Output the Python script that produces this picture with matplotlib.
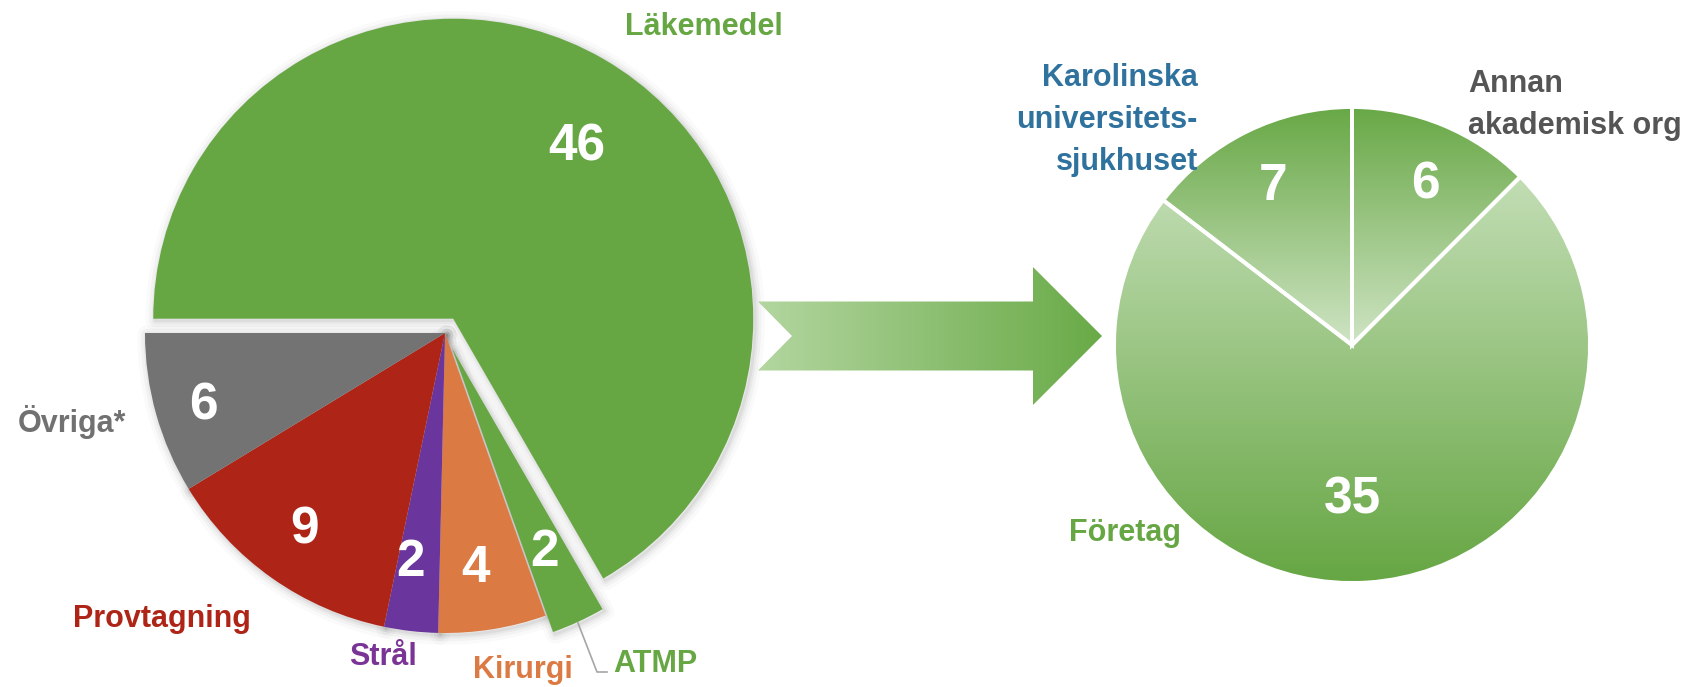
import numpy as np
import matplotlib
matplotlib.use('Agg')
import matplotlib.pyplot as plt
import matplotlib.patches as mpatches
from matplotlib.colors import LinearSegmentedColormap

############################################################################################
# data
left_labels = ['Läkemedel', 'ATMP', 'Kirurgi', 'Strål', 'Provtagning', 'Övriga*']
left_values = [46, 2, 4, 2, 9, 6]
left_colors = ['#66a744', '#66a744', '#dc7a43', '#6a359c', '#ae2518', '#737373']
left_text_colors = ['#66a744', '#66a744', '#dc7a43', '#7a3495', '#ae2518', '#717171']

right_labels = ['Annan\nakademisk org', 'Företag', 'Karolinska\nuniversitets-\nsjukhuset']
right_values = [6, 35, 7]
right_text_colors = ['#555555', '#66a744', '#2f729e']

############################################################################################
W, H = 1686, 687
def Y(y): return H - y          # image rows -> data y

FONT = ['Liberation Sans', 'DejaVu Sans']
plt.rcParams['font.family'] = FONT

fig = plt.figure(figsize=(W / 100, H / 100), dpi=100)
ax = fig.add_axes([0, 0, 1, 1])

############################################################################################
# left pie: Läkemedel and ATMP pulled out a little
L_CX, L_CY, L_R = 445, Y(333), 300
explode = [16.5, 18, 0, 0, 0, 0]
wedges, _ = ax.pie(left_values, colors=left_colors, radius=L_R, center=(L_CX, L_CY),
                   startangle=180, counterclock=False, explode=explode,
                   wedgeprops=dict(linewidth=0, zorder=2))
# soft shadow behind the wedges
for w in wedges:
    for lw, a in [(14, 0.02), (9, 0.03), (5, 0.04), (2, 0.05)]:
        ax.add_patch(mpatches.Wedge((w.center[0] + 2, w.center[1] - 2), w.r, w.theta1, w.theta2,
                                    facecolor='none', edgecolor='k', lw=lw, alpha=a,
                                    joinstyle='round', zorder=1))

num_kw = dict(color='white', fontsize=37, fontweight='bold', ha='center', va='center', zorder=5)
left_num_pos = [(577, 147), (545, 553), (475, 568), (410, 563), (305, 530), (203, 406)]
for v, (x, y) in zip(left_values, left_num_pos):
    ax.text(x, Y(y), str(v), **num_kw)

lab_kw = dict(fontsize=22, fontweight='bold', va='baseline', zorder=5)
left_lab_pos = [(704, 35, 'center'), (613, 672, 'left'), (523, 678, 'center'),
                (383, 665, 'center'), (162, 627, 'center'), (72, 432, 'center')]
for name, c, (x, y, ha) in zip(left_labels, left_text_colors, left_lab_pos):
    ax.text(x, Y(y), name, color=c, ha=ha, **lab_kw)
# leader line for ATMP
ax.plot([578, 597, 607], [Y(623), Y(672), Y(672)], color='#a6a6a6', lw=1.2, zorder=3)

############################################################################################
# arrow with gradient fill
ax_tail, ax_head, ax_tip, ax_notch = 758, 1033, 1102, 34
ay, body_h, head_h = Y(336), 34.5, 69
arrow = mpatches.Polygon([(ax_tail, ay + body_h), (ax_head, ay + body_h), (ax_head, ay + head_h),
                          (ax_tip, ay), (ax_head, ay - head_h), (ax_head, ay - body_h),
                          (ax_tail, ay - body_h), (ax_tail + ax_notch, ay)],
                         closed=True, facecolor='none', edgecolor='none', zorder=2)
ax.add_patch(arrow)
cmap_arrow = LinearSegmentedColormap.from_list('arr', ['#b3d6a0', '#69aa47'])
im = ax.imshow(np.linspace(0, 1, 256).reshape(1, -1), cmap=cmap_arrow, aspect='auto',
               extent=(ax_tail, ax_tip, ay - head_h, ay + head_h), zorder=2)
im.set_clip_path(arrow)

############################################################################################
# right pie with vertical gradients
R_CX, R_CY, R_R = 1352, Y(345), 238
rw, _ = ax.pie(right_values, radius=R_R, center=(R_CX, R_CY), startangle=90, counterclock=False,
               wedgeprops=dict(facecolor='none', edgecolor='white', linewidth=2.8, zorder=4))
grad = np.linspace(0, 1, 256).reshape(-1, 1)
cmap_big = LinearSegmentedColormap.from_list('big', ['#d2e7c8', '#66a643'])
cmap_small = LinearSegmentedColormap.from_list('small', ['#68a846', '#cfe4c4'])
for i, w in enumerate(rw):
    if i == 1:
        im = ax.imshow(grad, cmap=cmap_big, aspect='auto', origin='upper', zorder=3,
                       extent=(R_CX - R_R, R_CX + R_R, R_CY - R_R, R_CY + R_R))
    else:
        im = ax.imshow(grad, cmap=cmap_small, aspect='auto', origin='upper', zorder=3,
                       extent=(R_CX - R_R, R_CX + R_R, R_CY, R_CY + R_R))
    im.set_clip_path(w)

right_num_pos = [(1425, 185), (1352, 500), (1273, 187)]
for v, (x, y) in zip(right_values, right_num_pos):
    ax.text(x, Y(y), str(v), **num_kw)

right_lab_pos = [(1468, 92, 'left'), (1125, 541, 'center'), (1198, 86, 'right')]
for name, c, (x, y, ha) in zip(right_labels, right_text_colors, right_lab_pos):
    for k, line in enumerate(name.split('\n')):
        ax.text(x, Y(y + 42 * k), line, color=c, ha=ha, **lab_kw)

############################################################################################
ax.set_xlim(0, W)
ax.set_ylim(0, H)
ax.set_aspect('auto')
ax.axis('off')
fig.savefig('out.png', dpi=100, facecolor='white')
